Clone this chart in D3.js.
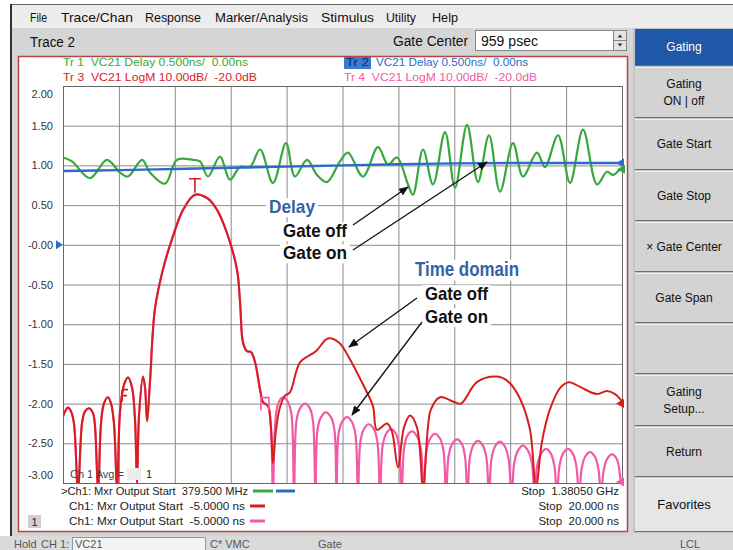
<!DOCTYPE html>
<html><head><meta charset="utf-8">
<script src="https://cdn.jsdelivr.net/npm/d3@7"></script>
<style>
body{margin:0;background:#fff;}
svg{display:block;font-family:"Liberation Sans",Arial,sans-serif;}
</style>
</head><body>
<svg id="c" width="733" height="550"></svg>
<script>
// ---------------- DATA ----------------
// Tr1 (green): VC21 Delay, gate off  -- frequency MHz / delay (ns, display units)
const greenFreq = [379.5,395.6,427.8,458.3,481.6,495.9,521.0,535.3,562.2,583.6,612.3,624.8,639.2,660.6,678.5,696.5,714.4,732.3,755.5,778.8,794.9,816.4,834.3,852.2,875.5,889.8,916.7,943.6,961.5,977.6,997.3,1006.2,1024.2,1042.1,1063.6,1081.5,1103.0,1122.6,1142.3,1162.0,1185.3,1203.2,1228.3,1242.6,1265.9,1287.4,1310.7,1335.7,1353.6,1364.4,1377.0,1380.5];
const greenDelay = [1.10,1.05,0.84,1.07,0.91,0.86,1.07,0.91,0.77,1.07,1.07,1.05,0.86,1.11,0.82,0.98,0.98,1.20,0.78,1.28,0.86,1.07,0.88,0.79,1.05,1.16,0.86,1.23,1.01,1.10,0.76,0.63,1.20,0.76,1.42,0.72,1.51,0.79,1.38,0.67,1.28,0.86,1.16,0.98,1.38,0.78,1.45,0.76,0.92,0.88,0.95,0.97];
// Tr2 (blue): VC21 Delay, gate on
const blueFreq = [379.5,480,580,680,780,880,980,1080,1180,1280,1380.5];
const blueDelay = [0.93,0.94,0.955,0.97,0.985,1.0,1.015,1.025,1.03,1.03,1.03];
// Tr3 (red): VC21 LogM time domain, gate off -- time ns / value in grid units
const redTime = [-5.00,-4.87,-4.78,-4.64,-4.51,-4.33,-4.15,-4.02,-3.84,-3.66,-3.57,-3.43,-3.30,-3.17,-2.99,-2.85,-2.72,-2.58,-2.45,-2.27,-2.09,-1.91,-1.78,-1.69,-1.60,-1.42,-1.33,-1.24,-1.11,-0.89,-0.53,-0.09,0.37,0.90,1.44,1.89,2.33,2.78,2.92,3.05,3.23,3.41,3.59,3.81,3.94,4.17,4.30,4.39,4.52,4.70,4.93,5.15,5.60,6.31,6.85,7.34,7.83,8.42,8.86,9.04,9.49,9.71,9.98,10.25,10.52,10.83,11.10,11.32,11.46,11.86,12.49,12.80,13.51,14.36,14.86,15.39,15.88,16.15,16.42,16.78,17.27,17.63,18.12,18.88,19.33,19.69,20.00];
const redValue = [-2.16,-2.08,-2.05,-2.10,-2.25,-3.10,-2.25,-2.10,-2.06,-2.12,-2.28,-3.10,-2.25,-2.00,-1.92,-2.00,-2.25,-3.10,-2.10,-1.76,-1.67,-1.80,-2.20,-3.00,-2.15,-1.66,-1.80,-2.22,-1.73,-0.81,-0.31,0.10,0.44,0.63,0.59,0.44,0.15,-0.31,-0.73,-1.23,-1.34,-1.35,-1.48,-1.82,-1.98,-2.03,-2.30,-2.75,-2.35,-2.05,-1.90,-1.86,-1.48,-1.34,-1.18,-1.23,-1.44,-1.76,-2.03,-2.33,-2.25,-2.35,-2.80,-2.30,-2.15,-2.30,-3.05,-2.30,-2.07,-1.92,-1.98,-2.00,-1.73,-1.66,-1.71,-1.91,-2.32,-3.05,-2.48,-2.07,-1.79,-1.73,-1.79,-1.88,-1.84,-1.88,-1.97];
// Tr4 (pink): VC21 LogM time domain, gate on
const pinkTime = [-5.00,-4.87,-4.78,-4.64,-4.51,-4.33,-4.15,-4.02,-3.84,-3.66,-3.57,-3.43,-3.30,-3.17,-2.99,-2.85,-2.72,-2.58,-2.45,-2.27,-2.09,-1.91,-1.78,-1.69,-1.60,-1.42,-1.33,-1.24,-1.11,-0.89,-0.53,-0.09,0.37,0.90,1.44,1.89,2.33,2.78,2.92,3.05,3.23,3.41,3.59,3.81,3.94,
 4.03,4.17,4.30,4.39,4.48,4.62,4.84,5.06,5.22,5.33,
 5.44,5.60,5.82,6.04,6.18,6.29, 6.38,6.54,6.76,6.98,7.14,7.23, 7.32,7.48,7.70,7.92,8.08,8.19,
 8.30,8.46,8.68,8.90,9.06,9.18, 9.29,9.45,9.67,9.89,10.03,10.14, 10.25,10.39,10.61,10.83,11.01,11.13,
 11.25,11.42,11.64,11.86,12.02,12.13, 12.24,12.40,12.62,12.84,12.98,13.09, 13.19,13.34,13.56,13.78,13.94,14.05,
 14.16,14.32,14.54,14.76,14.93,15.06, 15.18,15.35,15.57,15.79,15.97,16.09, 16.20,16.38,16.60,16.82,16.98,17.09,
 17.20,17.36,17.58,17.80,17.96,18.08, 18.19,18.35,18.57,18.79,18.95,19.06, 19.17,19.33,19.55,19.77,19.93,20.00];
const pinkValue = [-2.16,-2.08,-2.05,-2.10,-2.25,-3.10,-2.25,-2.10,-2.06,-2.12,-2.28,-3.10,-2.25,-2.00,-1.92,-2.00,-2.25,-3.10,-2.10,-1.76,-1.67,-1.80,-2.20,-3.00,-2.15,-1.66,-1.80,-2.22,-1.73,-0.81,-0.31,0.10,0.44,0.63,0.59,0.44,0.15,-0.31,-0.73,-1.23,-1.34,-1.35,-1.48,-1.82,-1.98,
 -2.00,-2.03,-2.30,-3.15,-2.30,-2.00,-1.92,-1.98,-2.14,-3.20,
 -2.22,-2.06,-2.00,-2.06,-2.22,-3.20, -2.33,-2.17,-2.11,-2.17,-2.33,-3.20, -2.39,-2.23,-2.17,-2.23,-2.39,-3.20,
 -2.48,-2.32,-2.26,-2.32,-2.48,-3.20, -2.54,-2.38,-2.32,-2.38,-2.54,-3.20, -2.57,-2.41,-2.35,-2.41,-2.57,-3.20,
 -2.60,-2.44,-2.38,-2.44,-2.60,-3.20, -2.67,-2.51,-2.45,-2.51,-2.67,-3.20, -2.69,-2.53,-2.47,-2.53,-2.69,-3.20,
 -2.70,-2.54,-2.48,-2.54,-2.70,-3.20, -2.75,-2.59,-2.53,-2.59,-2.75,-3.20, -2.79,-2.63,-2.57,-2.63,-2.79,-3.20,
 -2.79,-2.63,-2.57,-2.63,-2.79,-3.20, -2.83,-2.67,-2.61,-2.67,-2.83,-3.20, -2.86,-2.70,-2.64,-2.70,-2.95,-3.15];

const yTicks = [2,1.5,1,0.5,0,-0.5,-1,-1.5,-2,-2.5,-3];
const yTickLabels = ["2.00","1.50","1.00","0.50","-0.00","-0.50","-1.00","-1.50","-2.00","-2.50","-3.00"];
const timeGrid = [-2.5,0,2.5,5,7.5,10,12.5,15,17.5];
const freqDomain = [379.5,1380.5];
const timeDomain = [-5,20];

const menuItems = ["File","Trace/Chan","Response","Marker/Analysis","Stimulus","Utility","Help"];
const softkeys = [["Gating"],["Gating","ON | off"],["Gate Start"],["Gate Stop"],["\u00d7 Gate Center"],["Gate Span"],[],["Gating","Setup..."],["Return"],["Favorites"]];
const legendTop = ["Tr 1  VC21 Delay 0.500ns/  0.00ns","Tr 3  VC21 LogM 10.00dB/  -20.0dB","VC21 Delay 0.500ns/  0.00ns","Tr 4  VC21 LogM 10.00dB/  -20.0dB"];
const stimLines = [[">Ch1: Mxr Output Start  379.500 MHz","Stop  1.38050 GHz"],["Ch1: Mxr Output Start  -5.0000 ns","Stop  20.000 ns"],["Ch1: Mxr Output Start  -5.0000 ns","Stop  20.000 ns"]];

// ---------------- LAYOUT ----------------
const svg = d3.select("#c");
const P = {l:63, r:622, t:86, b:483};
const C = {green:"#36a83c", blue:"#2a6cc8", red:"#d61e1e", pink:"#f25aa8"};

svg.append("rect").attr("width",733).attr("height",550).attr("fill","#fff");
// menu bar
svg.append("rect").attr("x",12).attr("y",4).attr("width",721).attr("height",24).attr("fill","#ececec");
svg.append("line").attr("x1",12).attr("x2",733).attr("y1",4.5).attr("y2",4.5).attr("stroke","#666");
svg.append("rect").attr("x",10).attr("y",4).attr("width",2).attr("height",546).attr("fill","#333");
const menuX = [30,61,145,215,321,386,432], menuW=[17,72,56,93,53,30,26];
menuItems.forEach((m,i)=>svg.append("text").attr("x",menuX[i]).attr("y",22).attr("font-size",13)
  .attr("textLength",menuW[i]).attr("lengthAdjust","spacingAndGlyphs").attr("fill","#111").text(m));
// frame
svg.append("rect").attr("x",12).attr("y",28).attr("width",622).attr("height",508).attr("fill","#d5d5d5");
svg.append("text").attr("x",30).attr("y",47).attr("font-size",14).attr("textLength",45).attr("lengthAdjust","spacingAndGlyphs").attr("fill","#111").text("Trace 2");
svg.append("text").attr("x",393).attr("y",46).attr("font-size",14).attr("textLength",75).attr("lengthAdjust","spacingAndGlyphs").attr("fill","#111").text("Gate Center");
svg.append("rect").attr("x",475.5).attr("y",30.5).attr("width",138).attr("height",20).attr("fill","#fff").attr("stroke","#888");
svg.append("text").attr("x",481).attr("y",46).attr("font-size",15).attr("textLength",57).attr("lengthAdjust","spacingAndGlyphs").attr("fill","#111").text("959 psec");
// spinner
svg.append("rect").attr("x",613.5).attr("y",30.5).attr("width",13).attr("height",20).attr("fill","#e4e4e4").attr("stroke","#888");
svg.append("line").attr("x1",614).attr("x2",626).attr("y1",40.5).attr("y2",40.5).attr("stroke","#888");
svg.append("path").attr("d","M617.5,37.5 L622.5,37.5 L620,34.5Z M617.5,43.5 L622.5,43.5 L620,46.5Z").attr("fill","#333");

// right softkey panel
svg.append("rect").attr("x",633).attr("y",28).attr("width",100).attr("height",522).attr("fill","#c4c4c4");
const keyY = [28,66,118,170,221,272,323,374,426,477,532];
softkeys.forEach((k,i)=>{
  const y0 = keyY[i], y1 = keyY[i+1]-1;
  const fill = i===0 ? "#1f58a8" : (i===9 ? "#e6e6e6" : "#d3d3d3");
  svg.append("rect").attr("x",635).attr("y",y0+1).attr("width",98).attr("height",y1-y0-1).attr("fill",fill);
  if(i>0) svg.append("line").attr("x1",635).attr("x2",733).attr("y1",y0+1.5).attr("y2",y0+1.5).attr("stroke","#f2f2f2");
  svg.append("line").attr("x1",635).attr("x2",733).attr("y1",y1+0.5).attr("y2",y1+0.5).attr("stroke","#6e6e6e");
  const cy = (y0+y1)/2;
  k.forEach((t,j)=>{
    const yy = cy + (j-(k.length-1)/2)*17 + 4.5;
    svg.append("text").attr("x",684).attr("y",yy).attr("text-anchor","middle")
      .attr("font-size", i===9?13:12).attr("fill", i===0?"#fff":"#111").text(t);
  });
});
// status bar
svg.append("rect").attr("x",0).attr("y",536).attr("width",633).attr("height",14).attr("fill","#dadada");
svg.append("rect").attr("x",633).attr("y",533).attr("width",100).attr("height",17).attr("fill","#dadada");
const status = [["Hold",14],["CH 1:",41],["C* VMC",210],["Gate",318],["LCL",680]];
status.forEach(s=>svg.append("text").attr("x",s[1]).attr("y",548).attr("font-size",11).attr("fill","#555").text(s[0]));
svg.append("rect").attr("x",72.5).attr("y",537.5).attr("width",133).attr("height",13).attr("fill","#f4f4f4").attr("stroke","#7b9ad0");
svg.append("text").attr("x",75).attr("y",548).attr("font-size",11).attr("fill","#555").text("VC21");

// chart window
svg.append("rect").attr("x",18.5).attr("y",56.5).attr("width",609).attr("height",475).attr("fill","#fff").attr("stroke","#b54646").attr("stroke-width",1.5);

// legend at top
const lt = [[63,66,185,C.green],[63,81,194,C.red],[376,66,152,C.blue],[344,81,193,C.pink]];
svg.append("rect").attr("x",344).attr("y",57).attr("width",27).attr("height",12).attr("fill","#3d7ad2");
svg.append("text").attr("x",346).attr("y",66).attr("font-size",11.5).attr("textLength",23).attr("lengthAdjust","spacingAndGlyphs").attr("fill","#0c2a66").text("Tr 2");
legendTop.forEach((t,i)=>svg.append("text").attr("x",lt[i][0]).attr("y",lt[i][1]).attr("font-size",11.5)
   .attr("textLength",lt[i][2]).attr("lengthAdjust","spacingAndGlyphs").attr("fill",lt[i][3]).attr("xml:space","preserve").text(t));

// scales
const xF = d3.scaleLinear().domain(freqDomain).range([P.l,P.r]);
const xT = d3.scaleLinear().domain(timeDomain).range([P.l,P.r]);
const y = d3.scaleLinear().domain([-3,2]).range([P.b,P.t]);

// grid
const gx = svg.append("g").attr("transform",`translate(0,${P.b})`)
  .call(d3.axisBottom(xT).tickValues(timeGrid).tickSize(-(P.b-P.t)).tickFormat(""));
gx.select(".domain").remove();
gx.selectAll("line").attr("stroke","#8a8a8a");
const gy = svg.append("g").attr("transform",`translate(${P.l},0)`)
  .call(d3.axisLeft(y).tickValues(yTicks.slice(1,-1)).tickSize(-(P.r-P.l)).tickFormat(""));
gy.select(".domain").remove();
gy.selectAll("line").attr("stroke","#8a8a8a");
svg.append("rect").attr("x",P.l+0.5).attr("y",P.t+0.5).attr("width",P.r-P.l).attr("height",P.b-P.t)
  .attr("fill","none").attr("stroke","#666");

// y labels
const ya = svg.append("g").attr("transform",`translate(${P.l},0)`)
  .call(d3.axisLeft(y).tickValues(yTicks).tickSize(0).tickPadding(10).tickFormat((d,i)=>yTickLabels[i]));
ya.select(".domain").remove();
ya.selectAll("text").attr("font-size",11).attr("fill","#333").attr("font-family","Liberation Sans, Arial, sans-serif");
ya.selectAll(".tick").filter(d=>d===2).select("text").attr("dy","1.05em");
ya.selectAll(".tick").filter(d=>d===-3).select("text").attr("dy","-0.45em");

const defs = svg.append("defs");
defs.append("clipPath").attr("id","clip").append("rect").attr("x",P.l).attr("y",P.t).attr("width",P.r-P.l).attr("height",P.b-P.t);
defs.append("marker").attr("id","ah").attr("viewBox","0 0 10 8").attr("refX",9).attr("refY",4)
  .attr("markerWidth",10).attr("markerHeight",8).attr("markerUnits","userSpaceOnUse").attr("orient","auto")
  .append("path").attr("d","M0,0 L10,4 L0,8 Z").attr("fill","#111");

const notes = [
  {t:"Delay",x:269,y:213,s:19,w:46,c:"#3462a6"},
  {t:"Gate off",x:283,y:237,s:19,w:64,c:"#111"},
  {t:"Gate on",x:283,y:259,s:19,w:64,c:"#111"},
  {t:"Time domain",x:415,y:276,s:21,w:104,c:"#3462a6"},
  {t:"Gate off",x:425,y:300,s:19,w:63,c:"#111"},
  {t:"Gate on",x:425,y:323,s:19,w:63,c:"#111"}
];
const ng = svg.append("g");
notes.forEach(n=>{
  const r = ng.append("rect").attr("fill","#fff");
  ng.append("text").attr("x",n.x).attr("y",n.y).attr("font-size",n.s).attr("font-weight","bold")
    .attr("textLength",n.w).attr("lengthAdjust","spacingAndGlyphs").attr("fill",n.c).text(n.t);
  r.attr("x",n.x-3).attr("y",n.y-n.s*0.78).attr("width",n.w+6).attr("height",n.s*1.0);
});

// traces
const tg = svg.append("g").attr("clip-path","url(#clip)");
const curve = d3.curveCatmullRom.alpha(0.5);
function drawLine(xs, ys, xScale, color, w){
  const idx = d3.range(Math.min(xs.length, ys.length));
  tg.append("path").datum(idx).attr("fill","none").attr("stroke",color).attr("stroke-width",w)
    .attr("stroke-linejoin","round")
    .attr("d", d3.line().x(i=>xScale(xs[i])).y(i=>y(ys[i])).curve(curve));
}
drawLine(greenFreq, greenDelay, xF, C.green, 2.2);
drawLine(blueFreq, blueDelay, xF, C.blue, 2.4);
drawLine(pinkTime, pinkValue, xT, C.pink, 2.2);
drawLine(redTime, redValue, xT, C.red, 2.0);

// markers
const pk = d3.maxIndex(redValue);
const mx = xT(redTime[pk]), my = y(redValue[pk]);
svg.append("path").attr("d",`M${mx-6},${my-16} H${mx+6} M${mx},${my-16} V${my-2}`).attr("stroke",C.red).attr("stroke-width",1.6).attr("fill","none");
const m2x = xT(-2.36), m2y = y(-1.9);
svg.append("path").attr("d",`M${m2x},${m2y-6} V${m2y+6} M${m2x},${m2y-6} h6 M${m2x},${m2y} h5`).attr("stroke",C.red).attr("stroke-width",1.6).attr("fill","none");
const m3x = xT(4.03), m3y = y(-2.0);
svg.append("path").attr("d",`M${m3x-4},${m3y+7} V${m3y-6} H${m3x+4} V${m3y+7}`).attr("stroke",C.pink).attr("stroke-width",1.6).attr("fill","none");
function tri(xp, yp, color, dir){
  const d = dir<0 ? `M${xp-6},${yp} L${xp+2},${yp-4.5} L${xp+2},${yp+4.5}Z` : `M${xp+1},${yp} L${xp-6},${yp-4.5} L${xp-6},${yp+4.5}Z`;
  svg.append("path").attr("d",d).attr("fill",color);
}
tri(P.r, y(-2.0), C.red, -1);
tri(P.r, y(-3.0)-1, C.pink, -1);
tri(P.r, y(1.03), C.blue, -1);
tri(P.r+1, y(0.95), C.green, -1);
tri(P.l-1, y(0), C.blue, 1);

// arrows
const arrows = [[353,225,408,187],[353,250,487,162],[417,298,349,347],[422,322,352,415]];
arrows.forEach(a=>svg.append("line").attr("x1",a[0]).attr("y1",a[1]).attr("x2",a[2]).attr("y2",a[3])
  .attr("stroke","#111").attr("stroke-width",1.3).attr("marker-end","url(#ah)"));

// Ch 1 Avg
svg.append("text").attr("x",70).attr("y",478).attr("font-size",11).attr("fill","#444").text("Ch 1 Avg =");
svg.append("rect").attr("x",127).attr("y",468).attr("width",14).attr("height",12).attr("fill","#ececec");
svg.append("text").attr("x",146).attr("y",478).attr("font-size",11).attr("fill","#222").text("1");

// stimulus lines at bottom
const sy = [495,510,525];
const sx = [[61,187],[69,176],[69,176]];
stimLines.forEach((s,i)=>{
  svg.append("text").attr("x",sx[i][0]).attr("y",sy[i]).attr("font-size",11.5).attr("textLength",sx[i][1])
    .attr("lengthAdjust","spacingAndGlyphs").attr("xml:space","preserve").attr("fill","#222").text(s[0]);
  svg.append("text").attr("x",619).attr("y",sy[i]).attr("text-anchor","end").attr("font-size",11.5).attr("fill","#222").attr("xml:space","preserve").text(s[1]);
});
svg.append("line").attr("x1",253).attr("x2",273).attr("y1",491).attr("y2",491).attr("stroke",C.green).attr("stroke-width",3);
svg.append("line").attr("x1",276).attr("x2",295).attr("y1",491).attr("y2",491).attr("stroke",C.blue).attr("stroke-width",3);
svg.append("line").attr("x1",250).attr("x2",265).attr("y1",506).attr("y2",506).attr("stroke",C.red).attr("stroke-width",3);
svg.append("line").attr("x1",250).attr("x2",265).attr("y1",521).attr("y2",521).attr("stroke",C.pink).attr("stroke-width",3);
svg.append("rect").attr("x",28).attr("y",515).attr("width",13).attr("height",13).attr("fill","#cfcfcf");
svg.append("text").attr("x",31.5).attr("y",525.5).attr("font-size",11).attr("fill","#222").text("1");
</script>
</body></html>
